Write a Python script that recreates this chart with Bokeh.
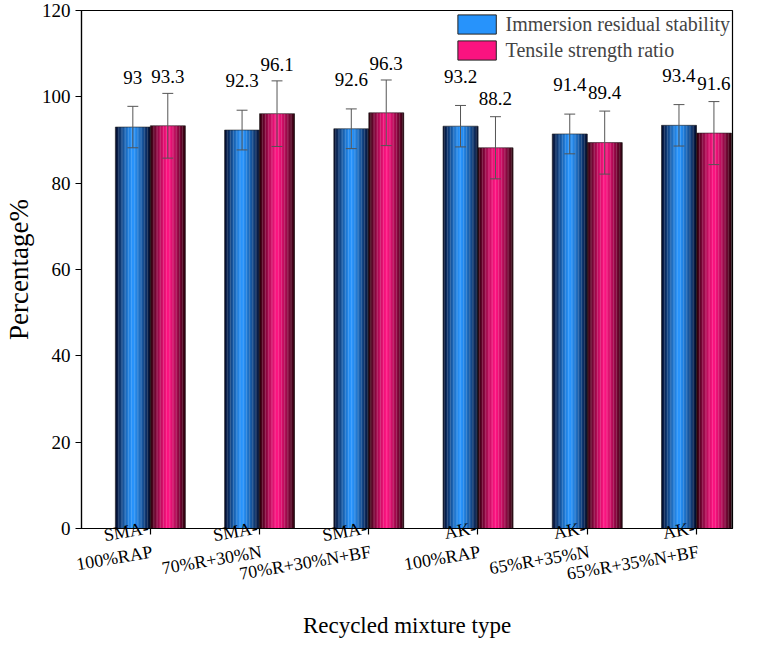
import numpy as np
from bokeh.plotting import figure
from bokeh.models import Range1d, FixedTicker, Legend, LegendItem
from bokeh.embed import file_html
from bokeh.resources import INLINE

categories = ["SMA-\n100%RAP", "SMA-\n70%R+30%N", "SMA-\n70%R+30%N+BF",
              "AK-\n100%RAP", "AK-\n65%R+35%N", "AK-\n65%R+35%N+BF"]
immersion = [93, 92.3, 92.6, 93.2, 91.4, 93.4]
tensile = [93.3, 96.1, 96.3, 88.2, 89.4, 91.6]
immersion_err = [4.8, 4.6, 4.6, 4.8, 4.6, 4.8]
tensile_err = [7.5, 7.6, 7.6, 7.2, 7.3, 7.3]

FONT = "Liberation Serif"
p = figure(width=742, height=641, output_backend="svg", toolbar_location=None,
           x_range=Range1d(0.37, 6.33), y_range=Range1d(0, 120))
p.min_border_left = 70
p.min_border_bottom = 100
p.min_border_top = 10
p.min_border_right = 10
p.grid.visible = False
p.outline_line_color = "black"
p.outline_line_width = 1.2

def grad(base, edge, n):
    t = np.abs(np.linspace(-1, 1, n))
    b = np.array(base); e = np.array(edge)
    cols = []
    for ti in t:
        c = b * (1 - ti**1.3) + e * ti**1.3
        cols.append("#%02x%02x%02x" % tuple(int(v) for v in c))
    return cols

N = 24
w = 0.32
xs = np.arange(1, len(categories) + 1)
series = [(immersion, immersion_err, -w / 2, (40, 150, 255), (5, 15, 50)),
          (tensile, tensile_err, w / 2, (255, 20, 130), (50, 0, 15))]
leg_items = []
labels = ["Immersion residual stability", "Tensile strength ratio"]
for si, (vals, errs, off, base, edge) in enumerate(series):
    cols = grad(base, edge, N)
    L, R, T, C = [], [], [], []
    for x, v in zip(xs, vals):
        left = x + off - w / 2
        for k in range(N):
            L.append(left + k * w / N); R.append(left + (k + 1) * w / N + 0.002)
            T.append(v); C.append(cols[k])
    p.quad(left=L, right=R, bottom=0, top=T, fill_color=C, line_color=None)
    p.quad(left=[x + off - w / 2 for x in xs], right=[x + off + w / 2 for x in xs],
           bottom=0, top=vals, fill_color=None, line_color="#222222", line_width=0.6)
    cx = [x + off for x in xs]
    lo = [v - e for v, e in zip(vals, errs)]
    hi = [v + e for v, e in zip(vals, errs)]
    p.segment(x0=cx, x1=cx, y0=lo, y1=hi, line_color="#555555", line_width=1)
    for yy in (lo, hi):
        p.segment(x0=[c - 0.05 for c in cx], x1=[c + 0.05 for c in cx], y0=yy, y1=yy,
                  line_color="#555555", line_width=1)
    p.text(x=cx, y=[v + 10 for v in vals], text=[("%g" % v) for v in vals],
           text_align="center", text_baseline="bottom", text_font=FONT,
           text_font_size="19px", text_color="black")
    lr = p.quad(left=[0], right=[0], bottom=[0], top=[0], fill_color=cols[N // 2],
                line_color="#222222")
    leg_items.append(LegendItem(label=labels[si], renderers=[lr]))

legend = Legend(items=leg_items, location="top_right", label_text_font=FONT,
                label_text_font_size="20px", border_line_color=None,
                background_fill_alpha=0.0, glyph_width=48, glyph_height=24,
                spacing=2, padding=4, margin=2)
p.add_layout(legend)

p.xaxis.ticker = FixedTicker(ticks=list(xs))
p.xaxis.major_label_overrides = {int(x): c for x, c in zip(xs, categories)}
p.xaxis.major_label_orientation = 0.17
p.yaxis.ticker = FixedTicker(ticks=[0, 20, 40, 60, 80, 100, 120])
for ax in (p.xaxis[0], p.yaxis[0]):
    ax.major_label_text_font = FONT
    ax.major_label_text_font_size = "19px"
    ax.major_label_text_color = "black"
    ax.axis_label_text_font = FONT
    ax.axis_label_text_font_style = "normal"
    ax.axis_label_text_color = "black"
    ax.axis_line_width = 1.2
    ax.major_tick_line_width = 1.2
    ax.minor_tick_line_color = None
    ax.major_tick_out = 6
    ax.major_tick_in = 0
p.xaxis.major_label_text_font_size = "18px"
p.xaxis.axis_label = "Recycled mixture type"
p.xaxis.axis_label_text_font_size = "23px"
p.yaxis.axis_label = "Percentage%"
p.yaxis.axis_label_text_font_size = "27px"

open("out.html", "w").write(file_html(p, INLINE))
